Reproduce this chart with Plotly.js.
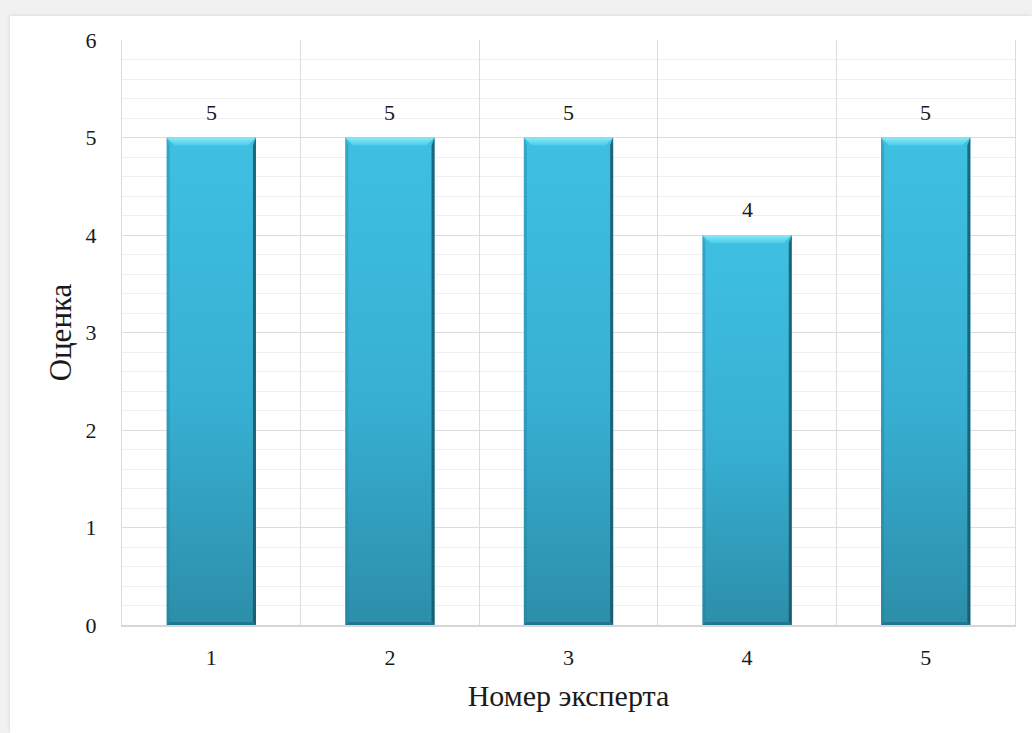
<!DOCTYPE html>
<html>
<head>
<meta charset="utf-8">
<script src="https://cdn.plot.ly/plotly-3.0.1.min.js"></script>
<style>
  html, body { margin: 0; padding: 0; width: 1032px; height: 733px; overflow: hidden; background: #f1f1f1; }
  #frame { position: absolute; left: 10px; top: 16px; width: 1022px; height: 717px; background: #fff;
           box-shadow: -1px -1px 3px rgba(0,0,0,0.08); }
  #chart { width: 1022px; height: 717px; }
</style>
</head>
<body>
<div id="frame"><div id="chart"></div></div>
<script>
// Expert numbers and the score each expert gave
const experts = ['1', '2', '3', '4', '5'];
const scores = [5, 5, 5, 4, 5];

const serif = '"Liberation Serif", "Times New Roman", serif';
const textColor = '#1a1a1a';

const trace = {
  type: 'bar',
  x: experts,
  y: scores,
  marker: { color: '#3bb9dc', line: { width: 0 } },
  hoverinfo: 'x+y'
};

// Value labels above each bar (x given as category index)
const labels = experts.map((e, i) => ({
  x: i, y: scores[i], xref: 'x', yref: 'y',
  text: String(scores[i]), showarrow: false,
  yanchor: 'bottom', yshift: 11,
  font: { family: serif, size: 22, color: textColor }
}));

const layout = {
  width: 1022, height: 717,
  margin: { l: 112, r: 17, t: 24, b: 108 },
  paper_bgcolor: '#ffffff',
  plot_bgcolor: '#ffffff',
  bargap: 0.5,
  showlegend: false,
  font: { family: serif, color: textColor },
  xaxis: {
    type: 'category',
    range: [-0.5, 4.5],
    tickson: 'boundaries',
    showgrid: true, gridcolor: '#dcdcdc', gridwidth: 1,
    showline: true, linecolor: '#d6d6d6', linewidth: 2,
    ticks: '', ticklabelstandoff: 12,
    tickfont: { family: serif, size: 22, color: textColor },
    title: { text: 'Номер эксперта', font: { family: serif, size: 30, color: textColor }, standoff: 16 },
    zeroline: false, fixedrange: true
  },
  yaxis: {
    range: [0, 6], dtick: 1, tick0: 0,
    showgrid: true, gridcolor: '#dcdcdc', gridwidth: 1,
    minor: { dtick: 0.2, showgrid: true, gridcolor: '#efefef', gridwidth: 1 },
    showline: true, mirror: true, linecolor: '#dcdcdc', linewidth: 1,
    ticks: '', ticklabelstandoff: 20,
    tickfont: { family: serif, size: 22, color: textColor },
    title: { text: 'Оценка', font: { family: serif, size: 31, color: textColor }, standoff: 4 },
    zeroline: false, fixedrange: true
  },
  annotations: labels
};

const NS = 'http://www.w3.org/2000/svg';

function makeGradient(defs, id, stops) {
  const g = document.createElementNS(NS, 'linearGradient');
  g.setAttribute('id', id);
  g.setAttribute('x1', '0'); g.setAttribute('y1', '0');
  g.setAttribute('x2', '0'); g.setAttribute('y2', '1');
  stops.forEach(([off, col]) => {
    const s = document.createElementNS(NS, 'stop');
    s.setAttribute('offset', off);
    s.setAttribute('stop-color', col);
    g.appendChild(s);
  });
  defs.appendChild(g);
}

function poly(parent, pts, fill, opacity) {
  const p = document.createElementNS(NS, 'polygon');
  p.setAttribute('points', pts.map(q => q.join(',')).join(' '));
  p.setAttribute('fill', fill);
  if (opacity !== undefined) p.setAttribute('fill-opacity', opacity);
  p.style.pointerEvents = 'none';
  parent.appendChild(p);
}

// Bevelled, shaded look for the bars drawn by Plotly
function shadeBars(gd) {
  const svg = gd.querySelector('svg.main-svg');
  let defs = svg.querySelector('defs');
  if (!defs) { defs = document.createElementNS(NS, 'defs'); svg.insertBefore(defs, svg.firstChild); }
  if (!defs.querySelector('#barFill')) {
    makeGradient(defs, 'barFill', [['0', '#3ec0e3'], ['0.55', '#37afd2'], ['1', '#2c8ea9']]);
    makeGradient(defs, 'barTop', [['0', '#8aeaf8'], ['1', '#4ccbe9']]);
  }
  gd.querySelectorAll('.trace.bars .point path').forEach(path => {
    path.style.fill = 'url(#barFill)';
    const bb = path.getBBox();
    const x0 = bb.x, x1 = bb.x + bb.width, y0 = bb.y, y1 = bb.y + bb.height;
    const b = 8, e = 3;
    const g = path.parentNode;
    // left edge
    poly(g, [[x0, y0], [x0 + e, y0 + b], [x0 + e, y1 - e], [x0, y1]], '#23809b', 0.4);
    // right edge
    poly(g, [[x1, y0], [x1, y1], [x1 - e, y1 - e], [x1 - e, y0 + b]], '#17566a', 0.85);
    // bottom edge
    poly(g, [[x0, y1], [x1, y1], [x1 - e, y1 - e], [x0 + e, y1 - e]], '#1d6d84', 0.7);
    // top bevel
    poly(g, [[x0, y0], [x1, y0], [x1 - b, y0 + b], [x0 + b, y0 + b]], 'url(#barTop)');
  });
}

Plotly.newPlot('chart', [trace], layout, { displayModeBar: false, staticPlot: true })
  .then(gd => shadeBars(gd));
</script>
</body>
</html>
